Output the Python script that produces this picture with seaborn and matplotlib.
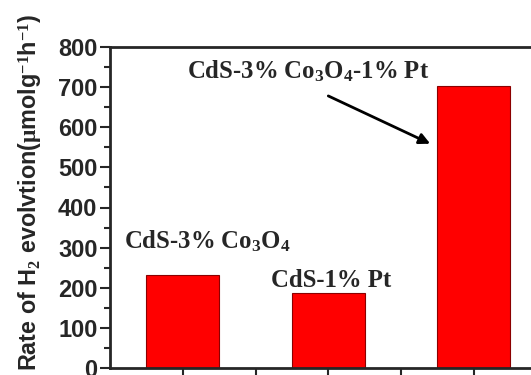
import matplotlib
matplotlib.use("Agg")
import matplotlib.pyplot as plt
import seaborn as sns
import pandas as pd
from matplotlib.ticker import MultipleLocator

samples = ["CdS-3% Co3O4", "CdS-1% Pt", "CdS-3% Co3O4-1% Pt"]
rates = [233, 186, 702]
labels = [r"CdS-3% Co$_3$O$_4$", "CdS-1% Pt", r"CdS-3% Co$_3$O$_4$-1% Pt"]

sns.set_style("ticks")
plt.rcParams["font.family"] = ["Liberation Sans", "DejaVu Sans"]
plt.rcParams["mathtext.fontset"] = "custom"
plt.rcParams["mathtext.rm"] = "Liberation Serif:bold"
plt.rcParams["mathtext.it"] = "Liberation Serif:bold"
plt.rcParams["mathtext.bf"] = "Liberation Serif:bold"

df = pd.DataFrame({"sample": samples, "rate": rates})

fig = plt.figure(figsize=(5.31, 3.75), dpi=100)
ax = fig.add_axes([110/531, 7/375, 436.5/531, 321/375])
sns.barplot(data=df, x="sample", y="rate", order=samples, color="#ff0000",
            saturation=1, width=0.5, edgecolor="#8b0000", linewidth=0.8, ax=ax)

ax.set_xlim(-0.5, 2.5)
ax.set_ylim(0, 800)
ax.set_xticks([0, 0.5, 1, 1.5, 2])
ax.set_xticklabels([])
ax.set_xlabel("")
ax.yaxis.set_major_locator(MultipleLocator(100))
ax.yaxis.set_minor_locator(MultipleLocator(50))
for s in ax.spines.values():
    s.set_linewidth(2)
    s.set_visible(True)
ax.tick_params(axis="both", which="major", direction="out", length=7, width=1.5)
ax.tick_params(axis="y", which="minor", direction="out", length=4, width=1.5)
for t in ax.get_yticklabels():
    t.set_fontweight("bold")
    t.set_fontsize(17)
ax.tick_params(axis="y", pad=2)

ax.set_ylabel(r"Rate of H$_\mathbf{2}$ evolvtion($\mathbf{\mu}$molg$^{\mathbf{-1}}$h$^{\mathbf{-1}}$)",
              fontsize=16.8, fontweight="bold")
ax.yaxis.set_label_coords(-0.150, 0.548)

serif = dict(family=["Liberation Serif", "DejaVu Serif"], fontweight="bold", fontsize=17.8)
ax.text(0.03, 721, labels[2], ha="left", va="baseline", **serif)
ax.text(-0.406, 297, labels[0], ha="left", va="baseline", **serif)
ax.text(0.605, 202, labels[1], ha="left", va="baseline", **serif)
ax.annotate("", xy=(1.718, 556), xytext=(0.983, 681),
            arrowprops=dict(arrowstyle="-|>", color="black", lw=2, mutation_scale=16))

fig.savefig("out.png", dpi=100)
